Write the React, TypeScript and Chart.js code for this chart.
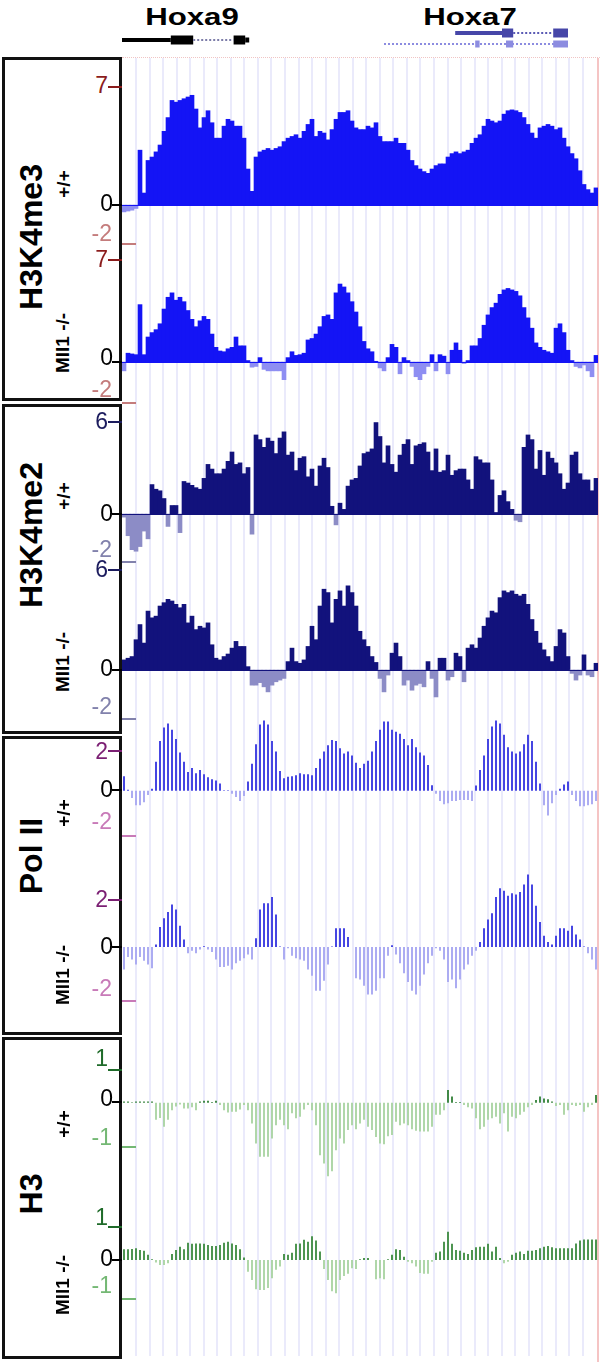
import React, { useEffect, useRef } from "react";
import { Chart, registerables } from "chart.js";
Chart.register(...registerables);

// ---------------- DATA ----------------
const bins = Array.from({ length: 119 }, (_, i) => i);

const h3k4me3WT = [-0.4,-0.35,-0.3,-0.2,3.2,0.7,2.6,2.8,3.1,3.5,
4.3,5.1,6.1,6.0,6.1,6.2,6.3,6.4,5.6,4.5,
5.1,5.5,4.8,3.9,3.9,4.6,5.0,4.9,4.6,4.6,
3.9,2.1,0.8,2.8,3.1,3.2,3.3,3.2,3.3,3.4,
3.7,3.9,4.0,4.1,3.9,4.3,4.7,5.0,4.0,4.3,
4.2,3.8,4.4,5.0,5.4,5.4,5.5,4.9,4.5,4.4,
4.4,4.6,4.5,4.8,4.0,3.7,3.7,3.7,3.9,3.6,
3.6,3.2,2.6,2.3,2.1,1.95,1.85,2.1,2.3,2.4,
2.4,2.8,3.0,3.1,3.0,3.1,3.2,3.6,3.9,4.1,
4.6,5.0,4.9,4.8,4.9,5.3,5.5,5.55,5.5,5.4,
5.1,4.7,4.2,3.9,4.5,4.6,4.7,4.6,4.4,4.5,
3.9,3.4,3.0,2.7,2.0,1.2,0.9,0.7,1.0];

const h3k4me3KO = [-0.6,0.6,0.55,0.5,3.9,0.5,1.7,2.0,2.2,2.6,
3.6,4.4,4.7,4.2,4.4,4.1,3.5,2.9,2.4,2.8,
3.1,2.9,1.9,1.0,0.75,0.7,0.9,1.0,1.7,1.1,
1.1,0.1,-0.35,-0.3,0.3,-0.5,-0.6,-0.6,-0.6,-0.6,
-1.2,0.3,0.7,0.45,0.5,0.6,1.5,1.6,1.9,2.4,
3.1,3.2,2.9,4.7,5.3,5.1,4.7,4.1,3.4,2.4,
1.4,0.9,0.7,0.05,-0.4,-0.6,0.3,1.2,1.0,-0.8,
0.3,0.1,-0.3,-1.0,-1.2,-0.8,-0.3,0.5,-0.6,0.5,
0.4,-0.8,0.8,1.3,0.8,-0.1,0.1,1.1,1.1,1.6,
2.5,3.2,3.7,4.0,4.6,4.9,5.0,4.9,4.8,4.5,
3.7,3.0,2.3,1.3,1.0,0.8,0.7,0.6,2.3,2.6,
2.0,0.8,0.1,-0.3,-0.4,-0.2,-0.6,-1.0,0.45];

const h3k4me2WT = [-0.2,-1.4,-2.3,-2.4,-2.1,-1.1,-1.6,1.9,1.6,1.5,
1.0,-0.8,0.55,0.55,-1.2,2.1,2.0,1.85,1.7,1.6,
2.3,3.2,2.9,2.6,2.6,2.9,3.4,4.0,3.2,3.3,
2.6,3.0,-1.3,5.1,4.8,4.3,4.9,4.7,3.9,4.9,
5.3,3.8,4.0,2.8,3.6,3.7,2.4,2.9,1.8,3.1,
3.6,3.0,0.5,-0.7,0.7,0.3,1.8,2.2,2.3,3.1,
3.9,4.0,4.2,5.9,5.0,3.3,4.4,3.2,2.7,3.8,
4.5,4.8,3.2,4.4,4.5,4.6,4.0,2.8,4.2,2.7,
2.8,3.8,2.5,2.8,2.9,2.9,2.2,1.6,3.7,3.5,
3.3,3.3,2.2,0.1,1.2,1.5,0.8,0.3,-0.4,-0.5,
4.3,5.1,4.8,2.9,4.1,2.5,4.0,3.6,3.3,2.6,
1.6,2.0,3.8,4.0,2.6,2.2,2.2,1.5,2.3];

const h3k4me2KO = [0.6,0.7,0.8,1.8,2.7,1.6,3.5,3.1,3.2,3.8,
4.0,4.2,4.1,3.9,3.7,3.9,2.8,3.2,2.4,2.6,
2.5,2.8,1.5,0.7,0.6,0.8,0.95,1.3,1.7,1.4,
1.4,0.2,-0.9,-0.9,-0.75,-1.0,-1.3,-0.9,-0.7,-0.6,
-0.5,0.5,1.3,0.5,0.4,0.6,1.4,2.6,1.8,3.8,
4.8,4.6,2.8,4.2,4.7,3.8,5.0,4.6,3.8,2.3,
1.8,1.4,0.8,0.45,-0.5,-1.3,-0.3,1.0,1.6,0.8,
-0.9,-0.6,-1.2,-0.9,-0.8,-1.0,0.5,-0.5,-1.6,0.7,
0.7,-0.6,-0.4,1.0,0.8,-0.7,1.3,1.5,1.3,1.9,
2.6,3.1,3.5,3.4,4.3,4.7,4.6,4.7,4.5,4.4,
4.5,3.9,3.0,2.3,1.6,1.2,0.8,0.5,1.4,2.4,
2.2,0.8,-0.2,-0.6,-0.3,0.9,-0.3,-0.4,0.4];

const polIIWT = [0.7,0.05,-0.35,-0.7,-0.7,-0.55,-0.2,0.1,1.4,2.4,
3.05,3.25,2.95,2.5,1.85,1.4,0.9,1.1,0.85,1.0,
0.8,0.65,0.55,0.5,0.35,0.02,0.02,-0.15,-0.3,-0.5,
-0.25,0.45,1.3,2.25,3.2,3.4,3.2,2.4,1.9,0.95,
0.6,0.68,0.7,0.75,0.85,0.8,0.8,0.75,1.1,1.55,
1.9,2.2,2.45,2.4,2.05,1.8,1.9,1.7,1.35,1.1,
1.3,1.45,1.9,2.4,2.95,3.35,3.35,2.95,2.85,2.75,
2.5,2.2,2.5,2.1,1.85,1.7,1.25,0.27,-0.15,-0.5,
-0.65,-0.6,-0.5,-0.5,-0.45,-0.45,-0.45,-0.5,0.25,1.0,
1.7,2.5,3.1,3.4,3.25,2.7,2.1,1.9,1.8,1.9,
2.25,2.7,2.4,1.4,0.35,-0.7,-1.2,-0.6,-0.2,0.1,
0.3,0.45,-0.2,-0.5,-0.75,-0.75,-0.7,-0.65,-0.5];

const polIIKO = [-0.9,-0.4,-0.5,-0.7,-0.4,-0.55,-0.7,-0.85,0.1,0.8,
1.15,1.4,1.7,1.5,0.85,0.3,-0.25,-0.15,-0.25,-0.1,
0.03,-0.1,-0.2,-0.5,-0.8,-0.8,-0.75,-0.9,-0.65,-0.55,
-0.45,-0.3,-0.5,0.35,1.5,1.75,1.75,2.0,1.3,0.02,
-0.5,-0.05,-0.35,-0.45,-0.5,-0.55,-0.9,-1.15,-1.75,-1.75,
-1.35,-0.7,0.02,0.75,0.75,0.75,0.4,0.0,-1.25,-1.3,
-1.55,-1.9,-1.9,-1.75,-1.25,-1.25,-0.35,0.07,-0.3,-0.65,
-1.05,-1.4,-1.75,-1.9,-1.55,-1.1,-0.65,-0.35,-0.05,-0.15,
-0.5,-1.4,-1.3,-1.65,-1.3,-0.9,-0.7,-0.35,-0.15,0.2,
0.75,1.1,1.35,2.0,2.35,2.25,2.05,2.15,2.1,2.2,
2.5,2.9,2.5,1.65,1.0,0.45,0.2,0.1,0.45,0.75,
0.75,0.65,0.85,0.5,0.3,0.02,-0.25,-0.5,-0.9];

const h3WT = [0.03,0.03,0.01,0.03,0.03,0.03,0.03,0.03,-0.45,-0.4,
-0.63,-0.45,-0.2,-0.1,-0.05,-0.15,-0.15,-0.12,-0.2,0.03,
0.05,0.05,0.02,0.05,-0.06,-0.2,-0.26,-0.24,-0.24,-0.18,
-0.06,-0.2,-0.55,-1.07,-1.42,-1.42,-1.42,-0.94,-0.59,-0.45,
-0.59,-0.7,-0.28,-0.41,-0.37,-0.18,-0.06,-0.2,-0.59,-1.38,
-1.6,-1.93,-1.8,-1.25,-0.94,-1.07,-0.72,-0.59,-0.7,-0.55,
-0.45,-0.63,-0.72,-0.9,-1.07,-1.09,-0.88,-0.85,-0.5,-0.59,
-0.55,-0.59,-0.7,-0.74,-0.76,-0.76,-0.76,-0.63,-0.32,-0.32,
-0.2,0.33,0.16,0.02,0.02,-0.06,-0.12,-0.15,-0.41,-0.7,
-0.63,-0.45,-0.41,-0.37,-0.55,-0.28,-0.76,-0.37,-0.41,-0.32,
-0.24,-0.12,-0.06,0.07,0.16,0.11,0.09,0.03,-0.09,-0.06,
-0.32,-0.2,-0.06,-0.09,-0.06,-0.24,-0.12,-0.06,0.2];

const h3KO = [0.29,0.29,0.3,0.32,0.27,0.25,0.14,0.02,-0.07,-0.14,
-0.14,-0.09,0.16,0.27,0.36,0.29,0.47,0.44,0.45,0.45,
0.44,0.41,0.38,0.38,0.41,0.47,0.5,0.45,0.41,0.29,
0.07,-0.32,-0.55,-0.8,-0.82,-0.82,-0.77,-0.5,-0.27,-0.18,
0.16,0.14,0.2,0.44,0.45,0.55,0.5,0.65,0.53,0.23,
-0.25,-0.55,-0.86,-0.91,-0.55,-0.44,-0.38,-0.23,-0.25,0.02,
0.05,0.05,0.0,-0.53,-0.5,-0.53,0.02,0.14,0.29,0.27,
0.09,-0.05,-0.09,-0.18,-0.36,-0.38,-0.38,-0.05,0.2,0.23,
0.5,0.77,0.44,0.27,0.25,0.2,0.16,0.27,0.35,0.36,
0.36,0.44,0.23,0.36,0.05,-0.09,-0.05,0.14,0.2,0.23,
0.16,0.25,0.25,0.27,0.32,0.36,0.38,0.35,0.32,0.32,
0.32,0.32,0.32,0.45,0.53,0.56,0.56,0.56,0.56];

// tick labels per track: [max, zero, min]
const h3k4me3Ticks = ["7", "0", "-2"];
const h3k4me2Ticks = ["6", "0", "-2"];
const polIITicks = ["2", "0", "-2"];
const h3Ticks = ["1", "0", "-1"];

// panel names and genotype labels
const panelNames = ["H3K4me3", "H3K4me2", "Pol II", "H3"];
const genotypes = ["+/+", "Mll1 -/-"];
const geneNames = ["Hoxa9", "Hoxa7"];

// gene models: [start, end] in bin units, per feature type
const hoxa9Line = [[0, 12.2]];
const hoxa9Blocks = [[12.2, 17.8], [27.9, 30.8]];
const hoxa9Tail = [[30.8, 31.8]];
const hoxa9Introns = [[17.8, 27.9]];
const hoxa7aLine = [[83.3, 95]];
const hoxa7aBlocks = [[95, 97.8], [107.8, 111.5]];
const hoxa7aIntrons = [[97.8, 107.8]];
const hoxa7bBlocks = [[88.3, 89.4], [96, 97.8], [107.8, 111.5]];
const hoxa7bIntrons = [[65.5, 111.5]];

// ---------------- LAYOUT ----------------
const X0 = 122;
const W = 476;

const baselinePlugin = {
  id: "baseline",
  afterDatasetsDraw(chart: any, _a: any, opts: any) {
    if (!opts || !opts.color) return;
    const { ctx, chartArea, scales } = chart;
    const y = Math.round(scales.y.getPixelForValue(0)) + 0.5;
    ctx.save();
    ctx.strokeStyle = opts.color;
    ctx.lineWidth = 1;
    ctx.beginPath();
    ctx.moveTo(chartArea.left, y);
    ctx.lineTo(chartArea.right, y);
    ctx.stroke();
    ctx.restore();
  },
};

type TrackDef = {
  data: number[];
  top: number;
  bottom: number;
  min: number;
  max: number;
  pos: string;
  neg: string;
  barPct: number;
  baseline: string | null;
  ticks: string[];
  tickY: number[]; // label centers: max, zero, min
  tickLineY: number[];
  maxColor: string;
  minColor: string;
};

const tracks: TrackDef[] = [
  { data: h3k4me3WT, top: 85, bottom: 245, min: -2.33, max: 7, pos: "#1414f5", neg: "#8e8ef2", barPct: 1, baseline: "#1414f5",
    ticks: h3k4me3Ticks, tickY: [85, 203, 233], tickLineY: [86, 205, 243], maxColor: "#8b1c1c", minColor: "#c47c7c" },
  { data: h3k4me3KO, top: 259, bottom: 400, min: -2.58, max: 7, pos: "#1414f5", neg: "#8e8ef2", barPct: 1, baseline: "#1414f5",
    ticks: h3k4me3Ticks, tickY: [259, 357, 389], tickLineY: [259, 362, 402], maxColor: "#8b1c1c", minColor: "#c47c7c" },
  { data: h3k4me2WT, top: 421, bottom: 561, min: -3.03, max: 6, pos: "#12127c", neg: "#8c8cc6", barPct: 1, baseline: "#12127c",
    ticks: h3k4me2Ticks, tickY: [421, 513, 549], tickLineY: [421, 514, 561], maxColor: "#1c1c5e", minColor: "#8282ac" },
  { data: h3k4me2KO, top: 569, bottom: 720, min: -2.97, max: 6, pos: "#12127c", neg: "#8c8cc6", barPct: 1, baseline: "#12127c",
    ticks: h3k4me2Ticks, tickY: [569, 668, 706], tickLineY: [569, 670, 718], maxColor: "#1c1c5e", minColor: "#8282ac" },
  { data: polIIWT, top: 715, bottom: 840, min: -2.38, max: 3.66, pos: "#4646e2", neg: "#acacf2", barPct: 0.5, baseline: null,
    ticks: polIITicks, tickY: [751, 789, 821], tickLineY: [750, 790, 835], maxColor: "#7b1f73", minColor: "#c87ab8" },
  { data: polIIKO, top: 870, bottom: 1010, min: -2.52, max: 3.08, pos: "#4646e2", neg: "#acacf2", barPct: 0.5, baseline: null,
    ticks: polIITicks, tickY: [899, 946, 988], tickLineY: [899, 947, 1000], maxColor: "#7b1f73", minColor: "#c87ab8" },
  { data: h3WT, top: 1060, bottom: 1180, min: -2.03, max: 1.12, pos: "#2f7f35", neg: "#a7d3a0", barPct: 0.45, baseline: null,
    ticks: h3Ticks, tickY: [1058, 1098, 1137], tickLineY: [1069, 1102, 1146], maxColor: "#1f6b2a", minColor: "#74b874" },
  { data: h3KO, top: 1215, bottom: 1310, min: -1.37, max: 1.23, pos: "#3a8a3e", neg: "#a7d3a0", barPct: 0.45, baseline: null,
    ticks: h3Ticks, tickY: [1217, 1258, 1285], tickLineY: [1226, 1260, 1298], maxColor: "#1f6b2a", minColor: "#74b874" },
];

const boxes = [
  { top: 57, bottom: 401, name: 0, nameY: 237, wtY: 184, koY: 343 },
  { top: 404, bottom: 734, name: 1, nameY: 535, wtY: 496, koY: 662 },
  { top: 736, bottom: 1035, name: 2, nameY: 856, wtY: 813, koY: 975 },
  { top: 1037, bottom: 1359, name: 3, nameY: 1194, wtY: 1124, koY: 1285 },
];

const gridLines = Array.from({ length: 34 }, (_, k) => 3.5 + 3.386 * k);

// ---------------- COMPONENTS ----------------
function ChartCanvas({ left, top, width, height, make }: any) {
  const ref = useRef<HTMLCanvasElement>(null);
  useEffect(() => {
    const chart = new Chart(ref.current as HTMLCanvasElement, make());
    return () => chart.destroy();
  }, []);
  return (
    <canvas
      ref={ref}
      width={width}
      height={height}
      style={{ position: "absolute", left, top, width, height }}
    />
  );
}

function trackConfig(t: TrackDef): any {
  return {
    type: "bar",
    data: {
      labels: bins,
      datasets: [
        {
          data: t.data,
          backgroundColor: t.data.map((v) => (v >= 0 ? t.pos : t.neg)),
          borderWidth: 0,
          barPercentage: t.barPct,
          categoryPercentage: 1,
        },
      ],
    },
    options: {
      animation: false,
      responsive: false,
      maintainAspectRatio: false,
      devicePixelRatio: 1,
      layout: { padding: 0 },
      plugins: { legend: { display: false }, tooltip: { enabled: false }, baseline: { color: t.baseline } },
      scales: {
        x: { display: false },
        y: { display: false, min: t.min, max: t.max },
      },
    },
    plugins: [baselinePlugin],
  };
}

function gridConfig(): any {
  return {
    type: "scatter",
    data: { datasets: [{ data: [] }] },
    options: {
      animation: false,
      responsive: false,
      maintainAspectRatio: false,
      devicePixelRatio: 1,
      layout: { padding: 0 },
      plugins: { legend: { display: false }, tooltip: { enabled: false } },
      scales: {
        x: {
          type: "linear",
          min: 0,
          max: 119,
          afterBuildTicks: (axis: any) => {
            axis.ticks = gridLines.map((v) => ({ value: v }));
          },
          grid: { color: "#eaeafb", lineWidth: 2, drawTicks: false },
          border: { display: false },
          ticks: { display: false },
        },
        y: { display: false, min: 0, max: 1 },
      },
    },
  };
}

function geneConfig(): any {
  const ds: any[] = [];
  const seg = (list: number[][], row: number, color: string, width: number, dash?: number[]) => {
    list.forEach(([a, b]) => {
      ds.push({
        type: "line",
        data: [{ x: a, y: row }, { x: b, y: row }],
        borderColor: color,
        borderWidth: width,
        borderCapStyle: "butt",
        borderDash: dash || [],
        pointRadius: 0,
      });
    });
  };
  seg(hoxa9Introns, 12, "#7c7ca8", 2, [2, 2]);
  seg(hoxa9Line, 12, "#000000", 4);
  seg(hoxa9Blocks, 12, "#000000", 9);
  seg(hoxa9Tail, 12, "#000000", 5);
  seg(hoxa7aIntrons, 19, "#5a5ab4", 2, [2, 2]);
  seg(hoxa7aLine, 19, "#4646a8", 4);
  seg(hoxa7aBlocks, 19, "#4646a8", 9);
  seg(hoxa7bIntrons, 8, "#8c8ce0", 2, [2, 2]);
  seg(hoxa7bBlocks, 8, "#8c8ce0", 7);
  return {
    type: "line",
    data: { datasets: ds },
    options: {
      animation: false,
      responsive: false,
      maintainAspectRatio: false,
      devicePixelRatio: 1,
      layout: { padding: 0 },
      plugins: { legend: { display: false }, tooltip: { enabled: false } },
      scales: {
        x: { type: "linear", display: false, min: 0, max: 119 },
        y: { type: "linear", display: false, min: 0, max: 26 },
      },
    },
  };
}

const rotStyle = (cx: number, cy: number, size: number, weight: number): React.CSSProperties => ({
  position: "absolute",
  left: cx,
  top: cy,
  transform: "translate(-50%, -50%) rotate(-90deg)",
  whiteSpace: "nowrap",
  fontFamily: "'Liberation Sans', Arial, sans-serif",
  fontWeight: weight,
  fontSize: size,
  lineHeight: 1,
  color: "#000",
});

export default function App() {
  const tickFont = "'Liberation Sans', Arial, sans-serif";
  return (
    <div style={{ position: "absolute", left: 0, top: 0, width: 600, height: 1362, background: "#fff", overflow: "hidden" }}>
      {/* grid */}
      <ChartCanvas left={X0} top={58} width={W} height={1298} make={gridConfig} />
      <div style={{ position: "absolute", left: 122, top: 57, width: 478, height: 0, borderTop: "1px dotted #f0c4c4" }} />
      <div style={{ position: "absolute", left: 597, top: 58, width: 2, height: 1304, background: "#f5c4c4" }} />

      {/* header gene names */}
      <div style={{ position: "absolute", left: 192, top: 17, transform: "translate(-50%,-50%) scaleX(1.3)", fontFamily: "'Liberation Sans', Arial, sans-serif", fontWeight: 700, fontSize: 24, lineHeight: 1 }}>{geneNames[0]}</div>
      <div style={{ position: "absolute", left: 470, top: 17, transform: "translate(-50%,-50%) scaleX(1.3)", fontFamily: "'Liberation Sans', Arial, sans-serif", fontWeight: 700, fontSize: 24, lineHeight: 1 }}>{geneNames[1]}</div>
      <ChartCanvas left={X0} top={26} width={W} height={26} make={geneConfig} />

      {/* tracks */}
      {tracks.map((t, i) => (
        <ChartCanvas key={"t" + i} left={X0} top={t.top} width={W} height={t.bottom - t.top} make={() => trackConfig(t)} />
      ))}

      {/* boxes */}
      {boxes.map((b, i) => (
        <div key={"b" + i}>
          <div style={{ position: "absolute", left: 2, top: b.top, width: 114, height: b.bottom - b.top - 6, border: "3px solid #111" }} />
          <div style={rotStyle(31, b.nameY, 32, 700)}>{panelNames[b.name]}</div>
          <div style={rotStyle(63, b.wtY, 19, 700)}>{genotypes[0]}</div>
          <div style={rotStyle(62, b.koY, 19, 700)}>{genotypes[1]}</div>
        </div>
      ))}

      {/* tick labels */}
      {tracks.map((t, i) => (
        <div key={"k" + i}>
          <div style={{ position: "absolute", right: 600 - 108, top: t.tickY[0], transform: "translateY(-50%)", fontFamily: tickFont, fontSize: 23, lineHeight: 1, color: t.maxColor }}>{t.ticks[0]}</div>
          <div style={{ position: "absolute", left: 108, top: t.tickLineY[0], width: 14, height: 1.5, background: t.maxColor }} />
          <div style={{ position: "absolute", right: 600 - 113, top: t.tickY[1], transform: "translateY(-50%)", fontFamily: tickFont, fontSize: 23, lineHeight: 1, color: "#000" }}>{t.ticks[1]}</div>
          <div style={{ position: "absolute", left: 112, top: t.tickLineY[1] - 1, width: 10, height: 1.5, background: "#000" }} />
          <div style={{ position: "absolute", right: 600 - 112, top: t.tickY[2], transform: "translateY(-50%)", fontFamily: tickFont, fontSize: 23, lineHeight: 1, color: t.minColor }}>{t.ticks[2]}</div>
          <div style={{ position: "absolute", left: 122, top: t.tickLineY[2], width: 14, height: 1.5, background: t.minColor }} />
        </div>
      ))}
    </div>
  );
}
